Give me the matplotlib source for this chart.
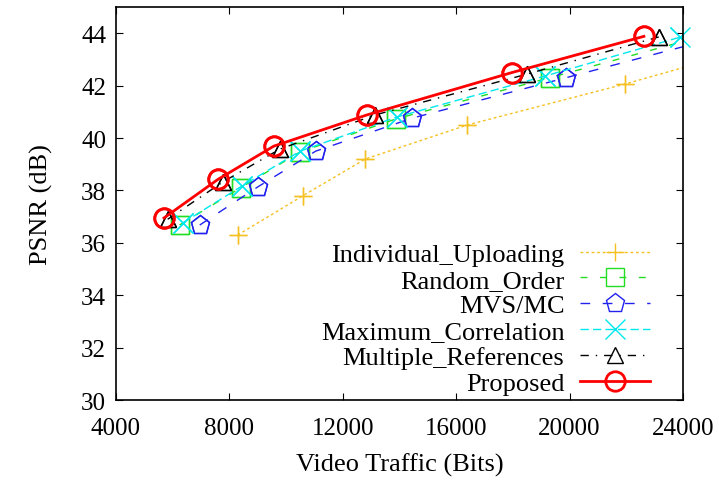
import matplotlib
matplotlib.use("Agg")
import matplotlib.pyplot as plt

plt.rcParams["font.family"] = ["Liberation Serif", "DejaVu Serif"]
plt.rcParams["font.size"] = 19

# Data (bits, dB)
iu_x = [8300, 10600, 12800, 16400, 21950, 26500]
iu_y = [36.3, 37.8, 39.2, 40.5, 42.06, 43.45]

ro_x = [6250, 8400, 10500, 13880, 19300, 24400]
ro_y = [36.68, 38.1, 39.47, 40.73, 42.3, 43.8]

mvs_x = [6960, 9000, 11050, 14450, 19870, 24400]
mvs_y = [36.68, 38.13, 39.5, 40.76, 42.3, 43.6]

mc_x = [6360, 8450, 10500, 13900, 19150, 23900]
mc_y = [36.76, 38.17, 39.5, 40.8, 42.37, 43.85]

mr_x = [5830, 7770, 9790, 13140, 18500, 23150]
mr_y = [36.9, 38.32, 39.58, 40.88, 42.44, 43.86]

pr_x = [5700, 7600, 9570, 12850, 17970, 22620]
pr_y = [36.95, 38.42, 39.69, 40.88, 42.5, 43.88]

XMIN, XMAX = 4000, 24000

fig = plt.figure(figsize=(7.19, 4.85), dpi=100)
ax = fig.add_axes([0.161, 0.173, 0.789, 0.8105])


def curve(xs, ys, label, **kw):
    ax.plot(xs, ys, label=label, **kw)
    # gnuplot draws a point fully when its centre is inside the frame
    inside = [i for i, x in enumerate(xs) if XMIN <= x <= XMAX]
    kw2 = dict(kw)
    kw2["ls"] = "none"
    kw2.pop("dashes", None)
    ax.plot([xs[i] for i in inside], [ys[i] for i in inside], clip_on=False, **kw2)


curve(iu_x, iu_y, "Individual_Uploading", color="#f5c021", lw=1.0, dashes=(2, 2),
      marker="+", ms=13, mew=1.0)
curve(ro_x, ro_y, "Random_Order", color="#22dd22", lw=1.0, dashes=(5, 9),
      marker="s", ms=13, mfc="none", mew=1.0)
curve(mvs_x, mvs_y, "MVS/MC", color="#2222ee", lw=1.0, dashes=(7, 9),
      marker="p", ms=14, mfc="none", mew=1.0)
curve(mc_x, mc_y, "Maximum_Correlation", color="#00e8ee", lw=1.0, dashes=(6, 3),
      marker="x", ms=14, mew=1.0)
curve(mr_x, mr_y, "Multiple_References", color="black", lw=1.0, dashes=(6, 5, 1, 5),
      marker="^", ms=12, mfc="none", mew=1.0)
curve(pr_x, pr_y, "Proposed", color="#ff0000", lw=2.0, marker="o", ms=14,
      mfc="none", mew=2.0)

ax.set_xlim(XMIN, XMAX)
ax.set_ylim(30, 45)
ax.set_xticks([4000, 8000, 12000, 16000, 20000, 24000])
ax.set_yticks([30, 32, 34, 36, 38, 40, 42, 44])
ax.tick_params(direction="in", length=5, top=True, right=True, labelsize=18)
ax.tick_params(axis="x", pad=12)
ax.tick_params(axis="y", pad=7)
for s in ax.spines.values():
    s.set_linewidth(1.2)

ax.set_xlabel("Video Traffic (Bits)", labelpad=10)
ax.set_ylabel("PSNR (dB)", labelpad=20)

ax.legend(loc="lower right", bbox_to_anchor=(0.942, 0.013), frameon=False,
          markerfirst=False, handlelength=2.65, handletextpad=0.6,
          labelspacing=0.09, borderaxespad=0.0, borderpad=0.0, fontsize=19)

fig.savefig("out.png", dpi=100)
